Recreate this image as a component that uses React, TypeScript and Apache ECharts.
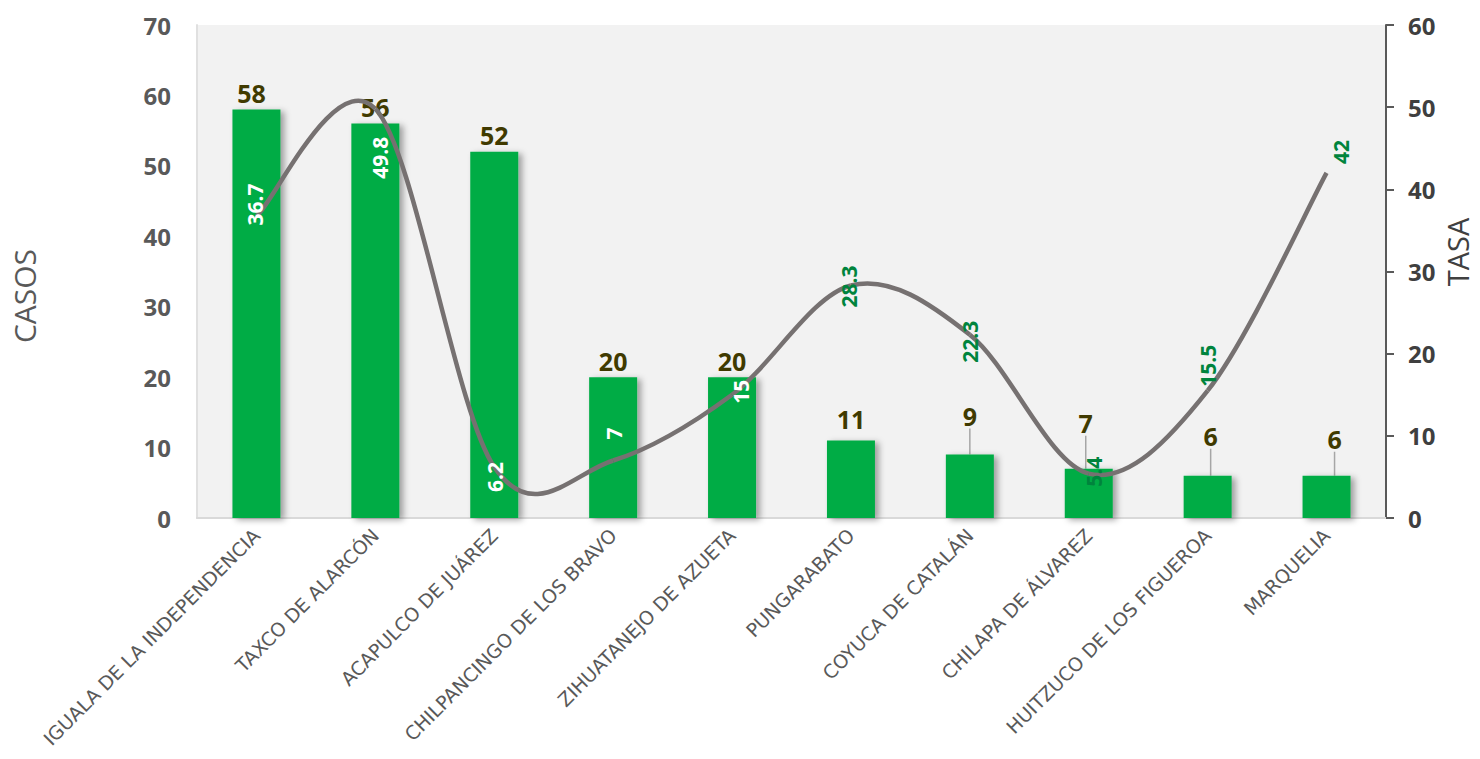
import React, { useEffect, useRef } from "react";
import * as echarts from "echarts";

const categories = [
  "IGUALA DE LA INDEPENDENCIA",
  "TAXCO DE ALARCÓN",
  "ACAPULCO DE JUÁREZ",
  "CHILPANCINGO DE LOS BRAVO",
  "ZIHUATANEJO DE AZUETA",
  "PUNGARABATO",
  "COYUCA DE CATALÁN",
  "CHILAPA DE ÁLVAREZ",
  "HUITZUCO DE LOS FIGUEROA",
  "MARQUELIA",
];
const casos = [58, 56, 52, 20, 20, 11, 9, 7, 6, 6];
const tasa = [36.7, 49.8, 6.2, 7, 15, 28.3, 22.3, 5.4, 15.5, 42];
const leftTicks = [0, 10, 20, 30, 40, 50, 60, 70];
const rightTicks = [0, 10, 20, 30, 40, 50, 60];

// styling per label (not data): screen-space shifts [x, y] in px
const lineLabelColors = ["#ffffff", "#ffffff", "#ffffff", "#ffffff", "#ffffff", "#00843d", "#00843d", "#00843d", "#00843d", "#00843d"];
const lineLabelShift = [[-1, -12], [5, 49], [1, 10], [1, -27], [9, -3], [-2, 1], [0, 7], [5, -2], [0, -25], [14, -21]];
const barLabelShift = [[-5, 0], [0, 0], [0, 0], [0, 0], [0, 0], [0, -5], [0, -22], [-3, -29], [3, -23], [8, -20]];
const barLabelLine = [false, false, false, false, false, false, true, true, true, true];

export default function App() {
  const ref = useRef<HTMLDivElement>(null);
  useEffect(() => {
    document.body.style.margin = "0";
    if (!ref.current) return;
    const chart = echarts.init(ref.current, null, { renderer: "svg" });
    const numFont = "'Open Sans', sans-serif";
    const n = tasa.length;
    chart.setOption({
      animation: false,
      textStyle: { fontFamily: numFont },
      grid: {
        left: 197,
        right: 94,
        top: 25,
        bottom: 241,
        show: true,
        backgroundColor: "#f2f2f2",
        borderWidth: 0,
      },
      graphic: [
        {
          type: "text",
          x: 24,
          y: 296,
          rotation: Math.PI / 2,
          style: {
            text: "CASOS",
            fill: "#595959",
            fontSize: 30,
            fontWeight: 500,
            fontFamily: numFont,
            align: "center",
            verticalAlign: "middle",
          },
        },
        {
          type: "text",
          x: 1457,
          y: 252,
          rotation: Math.PI / 2,
          style: {
            text: "TASA",
            fill: "#404040",
            fontSize: 29,
            fontWeight: 500,
            fontFamily: numFont,
            align: "center",
            verticalAlign: "middle",
          },
        },
      ],
      xAxis: {
        type: "category",
        data: categories,
        axisLine: { show: true, lineStyle: { color: "#d9d9d9", width: 2 } },
        axisTick: { show: false },
        axisLabel: {
          rotate: 45,
          interval: 0,
          color: "#595959",
          fontSize: 19,
          fontFamily: "'DejaVu Sans', sans-serif",
          margin: 14,
        },
      },
      yAxis: [
        {
          type: "value",
          min: leftTicks[0],
          max: leftTicks[leftTicks.length - 1],
          interval: 10,
          axisLine: { show: true, lineStyle: { color: "#e0e0e0", width: 2 } },
          axisTick: { show: false },
          splitLine: { show: false },
          axisLabel: { color: "#595959", fontSize: 24, fontWeight: "bold", margin: 26 },
        },
        {
          type: "value",
          min: rightTicks[0],
          max: rightTicks[rightTicks.length - 1],
          interval: 10,
          axisLine: { show: true, lineStyle: { color: "#595959", width: 2 } },
          axisTick: { show: true, length: 8, lineStyle: { color: "#595959", width: 2 } },
          splitLine: { show: false },
          axisLabel: { color: "#3f3f3f", fontSize: 24, fontWeight: "bold", margin: 22 },
        },
      ],
      series: [
        {
          type: "bar",
          data: casos.map((v, i) => ({ value: v, labelLine: { show: barLabelLine[i] } })),
          barWidth: 48,
          itemStyle: {
            color: "#00ac45",
            shadowColor: "rgba(0,0,0,0.35)",
            shadowBlur: 6,
            shadowOffsetX: 4,
            shadowOffsetY: 2,
          },
          label: {
            show: true,
            position: "top",
            distance: 4,
            color: "#403a00",
            fontSize: 25,
            fontWeight: "bold",
          },
          labelLine: { show: true, lineStyle: { color: "#a6a6a6", width: 1.5 } },
          labelLayout: (p: any) => ({ dx: barLabelShift[p.dataIndex][0], dy: barLabelShift[p.dataIndex][1] }),
        },
        {
          type: "custom",
          yAxisIndex: 1,
          data: tasa.map((v, i) => [i, v]),
          encode: { x: 0, y: 1 },
          silent: true,
          z: 3,
          renderItem: (params: any, api: any) => {
            const i = params.dataIndex;
            if (i >= n - 1) return { type: "group", children: [] };
            const pt = (k: number) => {
              const kk = Math.max(0, Math.min(n - 1, k));
              return api.coord([kk, tasa[kk]]);
            };
            const p0 = pt(i - 1);
            const p1 = pt(i);
            const p2 = pt(i + 1);
            const p3 = pt(i + 2);
            const c1 = [p1[0] + (p2[0] - p0[0]) / 6, p1[1] + (p2[1] - p0[1]) / 6];
            const c2 = [p2[0] - (p3[0] - p1[0]) / 6, p2[1] - (p3[1] - p1[1]) / 6];
            return {
              type: "bezierCurve",
              shape: {
                x1: p1[0], y1: p1[1],
                x2: p2[0], y2: p2[1],
                cpx1: c1[0], cpy1: c1[1],
                cpx2: c2[0], cpy2: c2[1],
              },
              style: { stroke: "#767171", lineWidth: 4.5, fill: "none", lineCap: "butt" },
            };
          },
        },
        {
          type: "scatter",
          yAxisIndex: 1,
          data: tasa.map((v, i) => ({ value: v, label: { color: lineLabelColors[i] } })),
          symbolSize: 1,
          z: 4,
          itemStyle: { color: "rgba(0,0,0,0)", opacity: 1 },
          label: {
            show: true,
            position: "inside",
            rotate: 90,
            fontSize: 21,
            fontWeight: "bold",
          },
          // label is rotated 90°, so its local dx/dy map to screen (dy, -dx)
          labelLayout: (p: any) => ({ dx: -lineLabelShift[p.dataIndex][1], dy: lineLabelShift[p.dataIndex][0] }),
        },
      ],
    });
    return () => chart.dispose();
  }, []);
  return <div ref={ref} style={{ width: 1480, height: 759 }} />;
}
